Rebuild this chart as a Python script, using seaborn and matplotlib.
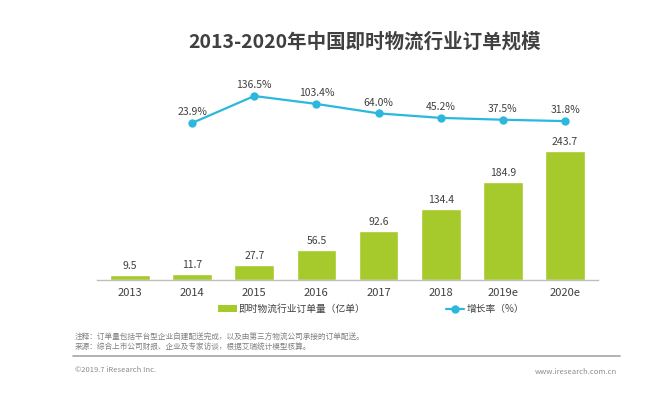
import matplotlib
matplotlib.use("Agg")
import matplotlib.pyplot as plt
import seaborn as sns
import pandas as pd
from matplotlib.patches import Patch
from matplotlib.lines import Line2D

sns.set_theme(style="white")
plt.rcParams['font.family'] = ['Noto Sans CJK SC', 'DejaVu Sans']

# data
years = ["2013", "2014", "2015", "2016", "2017", "2018", "2019e", "2020e"]
orders = [9.5, 11.7, 27.7, 56.5, 92.6, 134.4, 184.9, 243.7]
growth_years = ["2014", "2015", "2016", "2017", "2018", "2019e", "2020e"]
growth = [23.9, 136.5, 103.4, 64.0, 45.2, 37.5, 31.8]

bar_color = "#a6c92b"
line_color = "#2bb8dc"
text_color = "#404040"

df = pd.DataFrame({"year": years, "orders": orders})
dg = pd.DataFrame({"year": growth_years, "growth": growth})
dg["pos"] = [years.index(y) for y in growth_years]

fig = plt.figure(figsize=(6.52, 3.93), dpi=100)
ax = fig.add_axes([97/652, (393-280)/393, 501/652, 200/393])

sns.barplot(data=df, x="year", y="orders", color=bar_color, width=0.64,
            saturation=1, ax=ax)
for i, v in enumerate(orders):
    ax.text(i, v + 8, f"{v:.1f}", ha="center", va="bottom", fontsize=7.5,
            color=text_color)
ax.set_ylim(0, 377.8)
ax.set_xlim(-0.53, 7.53)
ax.set_xlabel("")
ax.set_ylabel("")
ax.set_yticks([])
ax.tick_params(axis="x", length=0, labelsize=8, colors=text_color, pad=6)
for s in ["top", "left", "right"]:
    ax.spines[s].set_visible(False)
ax.spines["bottom"].set_color("#bfbfbf")
ax.spines["bottom"].set_linewidth(1)

ax2 = ax.twinx()
sns.lineplot(data=dg, x="pos", y="growth", color=line_color, linewidth=1.6,
             marker="o", markersize=6, markeredgewidth=0, ax=ax2)
for p, v in zip(dg["pos"], growth):
    ax2.text(p, v + 24, f"{v:.1f}%", ha="center", va="bottom", fontsize=7.5,
             color=text_color)
ax2.set_ylim(-630.8, 203.2)
ax2.set_xlim(-0.53, 7.53)
ax2.set_yticks([])
ax2.set_xlabel("")
ax2.set_ylabel("")
for s in ax2.spines.values():
    s.set_visible(False)

fig.text(365/652, 1 - 42/393, "2013-2020年中国即时物流行业订单规模",
         ha="center", va="center", fontsize=14, fontweight="bold",
         color=text_color)

handles = [Patch(facecolor=bar_color, edgecolor="none"),
           Line2D([], [], color=line_color, marker="o", markersize=5,
                  linewidth=1.6)]
fig.legend(handles, ["即时物流行业订单量（亿单）", "增长率（%）"],
           loc="center", bbox_to_anchor=(371/652, 1 - 309/393), ncol=2,
           frameon=False, fontsize=7, handlelength=1.9, handleheight=0.6,
           handletextpad=0.2, columnspacing=8.3, labelcolor=text_color)

fig.text(75/652, 1 - 338/393,
         "注释：订单量包括平台型企业自建配送完成，以及由第三方物流公司承接的订单配送。",
         ha="left", va="center", fontsize=5.5, color="#7f7f7f")
fig.text(75/652, 1 - 348/393,
         "来源：综合上市公司财报、企业及专家访谈，根据艾瑞统计模型核算。",
         ha="left", va="center", fontsize=5.5, color="#7f7f7f")
fig.add_artist(Line2D([73/652, 620/652], [1 - 356/393, 1 - 356/393],
                      transform=fig.transFigure, color="#a6a6a6", linewidth=1.2))
fig.text(75/652, 1 - 370/393, "©2019.7 iResearch Inc.", ha="left",
         va="center", fontsize=5.5, color="#8c8c8c")
fig.text(617/652, 1 - 372/393, "www.iresearch.com.cn", ha="right",
         va="center", fontsize=5.5, color="#8c8c8c")

fig.savefig("out.png", dpi=100)
